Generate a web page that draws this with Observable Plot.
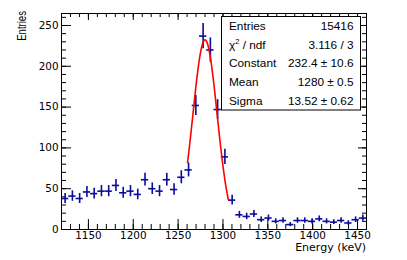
<!DOCTYPE html>
<html><head><meta charset="utf-8">
<script src="https://cdn.jsdelivr.net/npm/d3@7"></script>
<script src="https://cdn.jsdelivr.net/npm/@observablehq/plot@0.6"></script>
<style>html,body{margin:0;padding:0;background:#fff} #chart svg{display:block}</style>
</head><body><div id="chart"></div>
<script>
// Histogram: 42 bins from 1120 to 1460 keV
const xRange = [1120, 1460];
const counts = [38, 41, 38, 46, 44, 47, 47, 54, 45, 47, 43, 61, 50, 47, 61, 49, 64, 73,
  152, 237, 220, 147, 89, 36,
  18, 16, 19, 12, 14, 10, 11, 6, 11, 11, 10, 13, 10, 9, 11, 8, 12, 14];
// Gaussian fit
const fitConstant = 232.4, fitMean = 1280, fitSigma = 13.52;
const fitRange = [1260.5, 1306];
// Stats box
const statLabels = ["Entries", "χ² / ndf", "Constant", "Mean", "Sigma"];
const statValues = ["15416", "3.116 / 3", "232.4 ± 10.6", "1280 ± 0.5", "13.52 ± 0.62"];
// Axes
const xTicks = [1150, 1200, 1250, 1300, 1350, 1400, 1450];
const yTicks = [0, 50, 100, 150, 200, 250];
const xMinor = d3.range(1120, 1461, 10);
const yMinor = d3.range(0, 261, 10);
const xTitle = "Energy (keV)";
const yTitle = "Entries";

const blue = "#0a0a9c";
const binW = (xRange[1] - xRange[0]) / counts.length;
const bins = counts.map((c, i) => ({
  x: xRange[0] + (i + 0.5) * binW,
  x1: xRange[0] + i * binW,
  x2: xRange[0] + (i + 1) * binW,
  y: c,
  err: Math.sqrt(c)
}));
const fitPts = d3.range(fitRange[0], fitRange[1] + 0.01, 0.5).map(x => ({
  x, y: fitConstant * Math.exp(-0.5 * ((x - fitMean) / fitSigma) ** 2)
}));

const fmt = d3.format("d");
const tickOnly = {fill: "none", stroke: "black", label: null};
const plot = Plot.plot({
  width: 407, height: 260,
  marginLeft: 61, marginRight: 41, marginTop: 13, marginBottom: 31,
  x: {domain: xRange},
  y: {domain: [0, 264.7]},
  style: {fontFamily: "'DejaVu Sans', sans-serif", fontSize: "10px", color: "black", background: "white"},
  marks: [
    Plot.axisX({anchor: "bottom", ticks: xTicks, tickFormat: fmt, tickSize: 0, tickPadding: 2.5, label: null, fontSize: 10.4}),
    Plot.axisY({anchor: "left", ticks: yTicks, tickFormat: fmt, tickSize: 0, tickPadding: 3, label: null, fontSize: 10.4}),
    Plot.axisX({anchor: "bottom", ticks: xTicks, tickSize: -10, ...tickOnly}),
    Plot.axisX({anchor: "bottom", ticks: xMinor, tickSize: -5, ...tickOnly}),
    Plot.axisX({anchor: "top", ticks: xTicks, tickSize: -6, ...tickOnly}),
    Plot.axisX({anchor: "top", ticks: xMinor, tickSize: -3, ...tickOnly}),
    Plot.axisY({anchor: "left", ticks: yTicks, tickSize: -10, ...tickOnly}),
    Plot.axisY({anchor: "left", ticks: yMinor, tickSize: -5, ...tickOnly}),
    Plot.axisY({anchor: "right", ticks: yTicks, tickSize: -9, ...tickOnly}),
    Plot.axisY({anchor: "right", ticks: yMinor, tickSize: -5, ...tickOnly}),
    Plot.ruleY(bins, {y: "y", x1: "x1", x2: "x2", stroke: blue, strokeWidth: 1.6}),
    Plot.ruleX(bins, {x: "x", y1: d => d.y - d.err, y2: d => d.y + d.err, stroke: blue, strokeWidth: 1.6}),
    Plot.line(fitPts, {x: "x", y: "y", stroke: "#ff0000", strokeWidth: 1.6}),
    Plot.frame({stroke: "black"})
  ]
});
document.getElementById("chart").appendChild(plot);

const svg = d3.select(plot);
// Axis titles
svg.append("text").text(xTitle)
  .attr("x", 366).attr("y", 250.7).attr("text-anchor", "end")
  .attr("font-family", "'DejaVu Sans', sans-serif").attr("font-size", 11).attr("fill", "black");
svg.append("text").text(yTitle)
  .attr("transform", "translate(25.7,11) scale(1.3,1) rotate(-90)")
  .attr("text-anchor", "end")
  .attr("font-family", "'Liberation Sans', Arial, sans-serif").attr("font-size", 9.6).attr("fill", "black");

// Stats box
const box = svg.append("g").attr("font-family", "'Liberation Sans', Arial, sans-serif").attr("font-size", 11.8).attr("fill", "black");
box.append("rect").attr("x", 221.5).attr("y", 16.5).attr("width", 139).attr("height", 93.5)
  .attr("fill", "white").attr("stroke", "black").attr("stroke-width", 1);
statLabels.forEach((lab, i) => {
  const yb = 29.8 + i * 18.7;
  const t = box.append("text").attr("x", 229).attr("y", yb).attr("text-anchor", "start");
  if (lab.includes("²")) {
    const [a, b] = lab.split("²");
    t.append("tspan").text(a);
    t.append("tspan").text("2").attr("font-size", 7.5).attr("dy", -4.5);
    t.append("tspan").text(b).attr("dy", 4.5);
  } else {
    t.text(lab);
  }
  box.append("text").attr("x", 353.5).attr("y", yb).attr("text-anchor", "end").text(statValues[i]);
});
</script>
</body></html>
